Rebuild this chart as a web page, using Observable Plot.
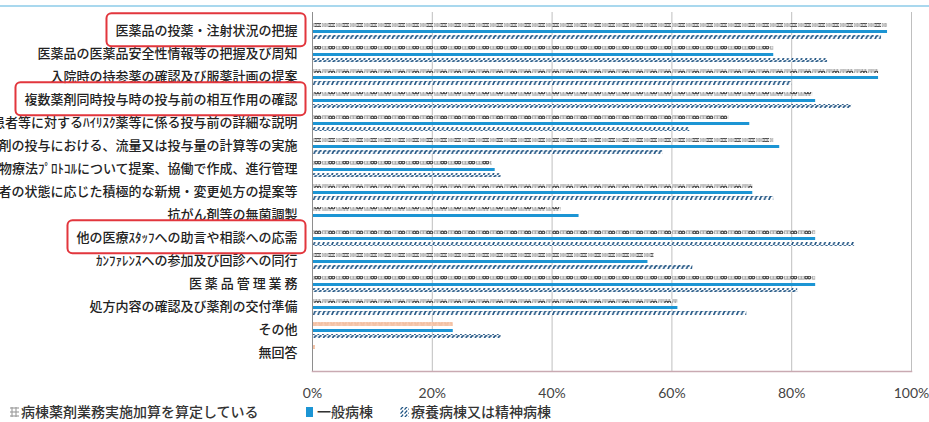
<!DOCTYPE html>
<html lang="ja">
<head>
<meta charset="utf-8">
<script src="https://cdn.jsdelivr.net/npm/d3@7"></script>
<script src="https://cdn.jsdelivr.net/npm/@observablehq/plot@0.6"></script>
<style>
  html, body { margin: 0; padding: 0; background: #fff; }
  #wrap { position: relative; width: 929px; height: 422px; overflow: hidden; }
  #topline { position: absolute; left: 0; right: 0; top: 5px; height: 0; border-top: 2px solid #a9d8ee; }
  #legend { position: absolute; left: 0; top: 400px; width: 929px; height: 22px;
            font-family: "Noto Sans CJK JP", sans-serif; font-size: 14px; font-weight: 500; color: #333; }
  #legend .item { position: absolute; top: 1px; display: flex; align-items: center; white-space: nowrap; }
  #legend svg { margin-right: 2px; }
</style>
</head>
<body>
<div id="wrap">
  <div id="topline"></div>
  <div id="chart"></div>
  <div id="legend"></div>
</div>
<script>
// 病棟薬剤業務の実施内容（複数回答）
const categories = [
  "医薬品の投薬・注射状況の把握",
  "医薬品の医薬品安全性情報等の把握及び周知",
  "入院時の持参薬の確認及び服薬計画の提案",
  "複数薬剤同時投与時の投与前の相互作用の確認",
  "患者等に対するﾊｲﾘｽｸ薬等に係る投与前の詳細な説明",
  "注射剤の投与における、流量又は投与量の計算等の実施",
  "薬物療法ﾌﾟﾛﾄｺﾙについて提案、協働で作成、進行管理",
  "患者の状態に応じた積極的な新規・変更処方の提案等",
  "抗がん剤等の無菌調製",
  "他の医療ｽﾀｯﾌへの助言や相談への応需",
  "ｶﾝﾌｧﾚﾝｽへの参加及び回診への同行",
  "医 薬 品 管 理 業 務",
  "処方内容の確認及び薬剤の交付準備",
  "その他",
  "無回答"
];

const seriesNames = ["病棟薬剤業務実施加算を算定している", "一般病棟", "療養病棟又は精神病棟"];

// 病棟薬剤業務実施加算を算定している (%)
const kasanValues   = [96, 77, 94.5, 83.5, 69.5, 77, 30, 73.5, 41.5, 84, 57, 84, 61, 23.5, 0.5];
// 一般病棟 (%)
const generalValues = [96, 77, 94.5, 84, 73, 78, 30.5, 73.5, 44.5, 84, 56, 84, 61, 23.5, 0];
// 療養病棟又は精神病棟 (%)
const ryoyoValues   = [95, 86, 80, 90, 63, 58.5, 31.5, 77, 0, 90.5, 63.5, 81, 72.5, 31.5, 0];

const xTicks = [0, 20, 40, 60, 80, 100];

// rows whose labels are boxed in red
const boxedLabels = [
  "医薬品の投薬・注射状況の把握",
  "複数薬剤同時投与時の投与前の相互作用の確認",
  "他の医療ｽﾀｯﾌへの助言や相談への応需"
];
// rows where the first series is shown in a salmon tone
const salmonRows = ["その他", "無回答"];

const rows = categories.map((category, i) => ({
  category,
  kasan: kasanValues[i],
  general: generalValues[i],
  ryoyo: ryoyoValues[i]
}));

const BLUE = "#1c95d4";

const patternDefs = `
  <pattern id="pat-kasan" patternUnits="userSpaceOnUse" width="14" height="5">
    <rect width="14" height="5" fill="#f4f4f4"/>
    <rect x="0.6" y="0.9" width="2.5" height="3.2" fill="none" stroke="#a8a8a8" stroke-width="1"/>
    <rect x="3.7" y="0.9" width="2.5" height="3.2" fill="none" stroke="#a8a8a8" stroke-width="1"/>
    <circle cx="8.3" cy="2.5" r="1.4" fill="none" stroke="#4f4f4f" stroke-width="1.3"/>
    <circle cx="11.3" cy="2.5" r="1.4" fill="none" stroke="#4f4f4f" stroke-width="1.3"/>
  </pattern>
  <pattern id="pat-salmon" patternUnits="userSpaceOnUse" width="6" height="5">
    <rect width="6" height="5" fill="#f8cdb5"/>
    <rect x="1" y="1" width="3" height="3" fill="none" stroke="#f0b894" stroke-width="0.8"/>
  </pattern>
  <pattern id="pat-ryoyo" patternUnits="userSpaceOnUse" width="4.6" height="5">
    <rect width="4.6" height="5" fill="#fff"/>
    <path d="M0.9,4.5 L2.2,1.3 L3.5,0.8" fill="none" stroke="#1d5282" stroke-width="1.7" stroke-linecap="round"/>
  </pattern>`;

const chart = Plot.plot({
  width: 929,
  height: 400,
  marginLeft: 312,
  marginRight: 18,
  marginTop: 12,
  marginBottom: 29,
  style: { fontFamily: "'Noto Sans CJK JP', sans-serif", background: "transparent" },
  x: { domain: [0, 100] },
  y: { domain: categories, padding: 0 },
  marks: [
    Plot.gridX({ ticks: xTicks.slice(1), stroke: "#bfbfbf", strokeOpacity: 1 }),
    Plot.barX(rows.filter(d => !salmonRows.includes(d.category)),
      { y: "category", x: "kasan", fill: "url(#pat-kasan)", insetTop: 4, insetBottom: 15 }),
    Plot.barX(rows.filter(d => salmonRows.includes(d.category)),
      { y: "category", x: "kasan", fill: "url(#pat-salmon)", insetTop: 4, insetBottom: 15 }),
    Plot.barX(rows, { y: "category", x: "general", fill: BLUE, insetTop: 11, insetBottom: 9 }),
    Plot.barX(rows, { y: "category", x: "ryoyo", fill: "url(#pat-ryoyo)", insetTop: 16, insetBottom: 3 }),
    Plot.ruleX([0], { stroke: "#8e8e8e" }),
    Plot.frame({ anchor: "bottom", stroke: "#c9aab2", strokeWidth: 1.5 }),
    Plot.axisY({ tickSize: 0, tickPadding: 15, label: null, fontSize: 13, fontWeight: 500, fill: "#222" }),
    Plot.axisX({ ticks: xTicks, tickFormat: d => d + "%", tickSize: 0, tickPadding: 17,
                 label: null, fontSize: 14, fontFamily: "Lato, sans-serif", fill: "#444" })
  ]
});

d3.select(chart).insert("defs", ":first-child").html(patternDefs);
document.getElementById("chart").appendChild(chart);

// red rounded boxes around the highlighted row labels
const boxLayer = d3.select(chart).append("g").attr("fill", "none")
  .attr("stroke", "#e2363d").attr("stroke-width", 2);
d3.select(chart).selectAll("g[aria-label='y-axis tick label'] text").each(function () {
  if (!boxedLabels.includes(this.textContent)) return;
  const b = this.getBBox();
  const m = this.getCTM();
  const x0 = m.e + b.x, y0 = m.f + b.y;
  boxLayer.append("rect")
    .attr("x", x0 - 9).attr("y", y0 - 7)
    .attr("width", b.width + 17).attr("height", b.height + 14)
    .attr("rx", 5).attr("ry", 5);
});

// legend below the chart
const legend = d3.select("#legend");
const legendItems = [
  { name: seriesNames[0], fill: "url(#lg-kasan)", left: 10 },
  { name: seriesNames[1], fill: BLUE, left: 306 },
  { name: seriesNames[2], fill: "url(#lg-ryoyo)", left: 400 }
];
legendItems.forEach((it, i) => {
  const item = legend.append("div").attr("class", "item").style("left", it.left + "px");
  const sw = item.append("svg").attr("width", 9).attr("height", 11);
  if (i === 0) {
    sw.append("defs").html(`<pattern id="lg-kasan" patternUnits="userSpaceOnUse" width="4" height="4">
      <rect width="4" height="4" fill="#fff"/><circle cx="2" cy="2" r="1.2" fill="none" stroke="#7a7a7a" stroke-width="0.9"/></pattern>`);
  }
  if (i === 2) {
    sw.append("defs").html(`<pattern id="lg-ryoyo" patternUnits="userSpaceOnUse" width="4" height="4">
      <rect width="4" height="4" fill="#fff"/><path d="M0.5,3.6 L3.2,0.5" stroke="#1d5282" stroke-width="1.2"/></pattern>`);
  }
  sw.append("rect").attr("x", 0).attr("y", 1).attr("width", i === 1 ? 7 : 9).attr("height", 10).attr("fill", it.fill);
  item.append("span").text(it.name);
});
</script>
</body>
</html>
